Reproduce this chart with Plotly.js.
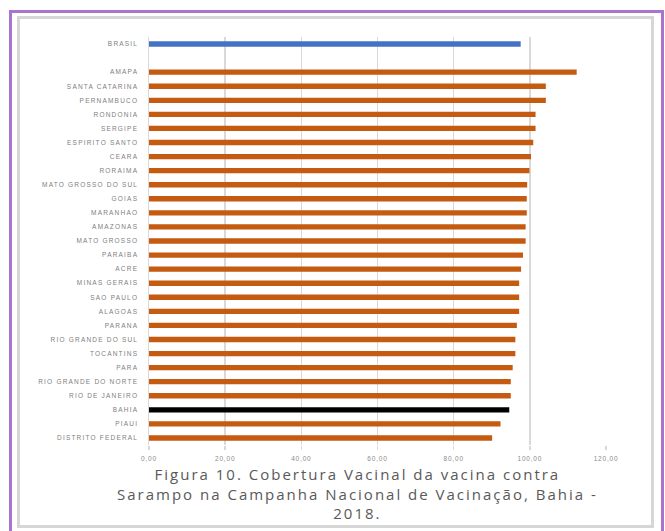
<!DOCTYPE html>
<html>
<head>
<meta charset="utf-8">
<script src="https://cdn.plot.ly/plotly-3.0.1.min.js"></script>
<style>
  html, body { margin: 0; padding: 0; background: #fff; }
  body { width: 665px; height: 531px; position: relative; overflow: hidden; }
  .outer { position: absolute; left: 9px; top: 10px; width: 649px; height: 540px;
           border: 3px solid #a974cf; border-bottom: none; box-sizing: content-box; }
  .inner { position: absolute; left: 17px; top: 16px; width: 631px; height: 506px;
           border: 3px solid #d6d6d6; }
  #chart { position: absolute; left: 0; top: 0; width: 665px; height: 531px; }
  #chart .ytick text { letter-spacing: 1.2px; }
  #chart .xtick text { letter-spacing: 0.8px; }
  #chart .annotation-text { letter-spacing: 2px; }
</style>
</head>
<body>
<div class="outer"></div>
<div class="inner"></div>
<div id="chart"></div>
<script>
// Cobertura vacinal (%) - sarampo, campanha 2018
const states = [
  'BRASIL', ' ', 'AMAPA', 'SANTA CATARINA', 'PERNAMBUCO', 'RONDONIA', 'SERGIPE',
  'ESPIRITO SANTO', 'CEARA', 'RORAIMA', 'MATO GROSSO DO SUL', 'GOIAS', 'MARANHAO',
  'AMAZONAS', 'MATO GROSSO', 'PARAIBA', 'ACRE', 'MINAS GERAIS', 'SAO PAULO',
  'ALAGOAS', 'PARANA', 'RIO GRANDE DO SUL', 'TOCANTINS', 'PARA',
  'RIO GRANDE DO NORTE', 'RIO DE JANEIRO', 'BAHIA', 'PIAUI', 'DISTRITO FEDERAL',
];
const coverage = [
  97.6, null, 112.3, 104.2, 104.2, 101.5, 101.5,
  100.9, 100.3, 99.9, 99.3, 99.2, 99.2,
  98.9, 98.9, 98.2, 97.7, 97.2, 97.2,
  97.2, 96.6, 96.2, 96.2, 95.5,
  95.0, 95.0, 94.6, 92.3, 90.1,
];
const xTicks = [0, 20, 40, 60, 80, 100, 120];
const xTickText = ['0,00', '20,00', '40,00', '60,00', '80,00', '100,00', '120,00'];

const barColor = (name) =>
  name === 'BRASIL' ? '#4472c4' : name === 'BAHIA' ? '#000000' : '#c55a11';

const traces = [{
  type: 'bar',
  orientation: 'h',
  y: states,
  x: coverage,
  width: 0.38,
  marker: { color: states.map(barColor) },
  hoverinfo: 'x+y',
}];

const layout = {
  width: 665,
  height: 531,
  paper_bgcolor: 'rgba(0,0,0,0)',
  plot_bgcolor: 'rgba(0,0,0,0)',
  margin: { l: 149, r: 59, t: 37, b: 86 },
  showlegend: false,
  font: { family: 'Liberation Sans, Arial, sans-serif', color: '#7a7a7a' },
  xaxis: {
    range: [0, 120],
    tickvals: xTicks,
    ticktext: xTickText,
    tickfont: { size: 6.5, color: '#8a8a8a' },
    showgrid: true,
    gridcolor: '#d9d9d9',
    gridwidth: 1.5,
    zeroline: false,
    showline: false,
    ticks: 'outside',
    ticklen: 4,
    tickwidth: 1.5,
    tickcolor: '#d9d9d9',
    ticklabelstandoff: 3,
    fixedrange: true,
  },
  yaxis: {
    type: 'category',
    categoryorder: 'array',
    categoryarray: states,
    autorange: 'reversed',
    tickfont: { size: 6.5, color: '#808080' },
    showgrid: false,
    zeroline: false,
    showline: true,
    linecolor: '#d9d9d9',
    linewidth: 1.5,
    ticks: '',
    ticklabelstandoff: 8,
    fixedrange: true,
  },
  annotations: [{
    xref: 'paper', yref: 'paper',
    x: (357 - 149) / 457, y: -0.042,
    xanchor: 'center', yanchor: 'top',
    showarrow: false,
    align: 'center',
    text: 'Figura 10. Cobertura Vacinal da vacina contra<br>' +
          'Sarampo na Campanha Nacional de Vacinação, Bahia -<br>2018.',
    font: { family: 'Open Sans, sans-serif', size: 15, color: '#595959' },
  }],
};

Plotly.newPlot('chart', traces, layout, { displayModeBar: false, staticPlot: true });
</script>
</body>
</html>
